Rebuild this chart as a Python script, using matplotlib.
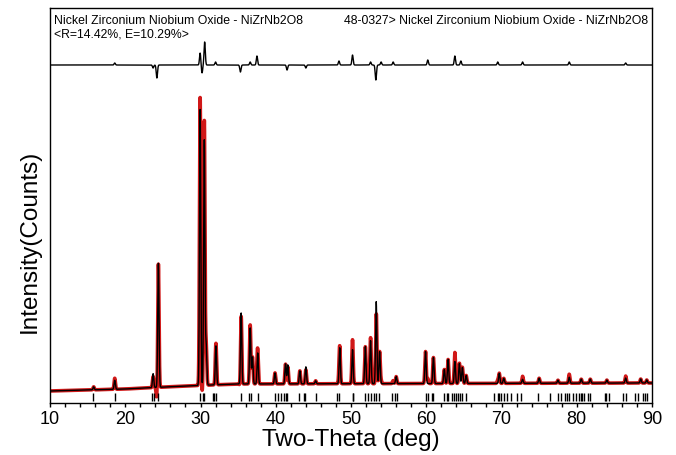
import numpy as np
import matplotlib.pyplot as plt

plt.rcParams['font.family'] = ['Liberation Sans', 'DejaVu Sans']

# 背景 (2θ, 强度)
bg_pos = [10, 20, 28, 35, 90]
bg_int = [12, 14, 17, 19, 20]

# 计算峰 (位置, 峰高)
peak_pos = [15.8, 18.6, 23.7, 24.4, 29.95, 30.5, 30.75, 32.05, 35.4, 36.6, 36.9,
            37.6, 39.9, 41.3, 41.6, 43.2, 44.0, 45.3, 48.5, 50.2, 51.9, 52.6,
            53.35, 53.8, 56.0, 59.9, 60.95, 62.4, 62.9, 63.8, 64.4, 64.8, 65.3,
            69.7, 70.3, 72.8, 75.0, 77.5, 79.0, 80.6, 81.8, 84.0, 86.5, 88.5, 89.3]
peak_h = [3, 9, 14, 124, 276, 245, 40, 39, 71, 56, 27,
          31, 11, 20, 19, 13, 17, 3, 36, 34, 37, 43,
          82, 32, 7, 32, 26, 14, 24, 22, 20, 16, 8,
          10, 5, 4, 5, 3, 6, 4, 4, 3, 5, 4, 3]

# 残差 (位置, 幅度)
res_pos = [18.6, 23.7, 24.2, 29.95, 30.2, 30.55, 32.0, 35.3, 36.6, 37.5, 41.5,
           44.0, 48.4, 50.2, 52.6, 53.3, 54.0, 55.6, 60.2, 63.8, 64.6, 69.5,
           72.8, 79.0, 86.5]
res_amp = [2, -3, -13, 12, -8, 23, 3, -7, 3, 9, -5,
           -3, 4, 10, 3, -15, 3, 3, 5, 9, 4, 3,
           3, 3, 2]

# PDF 48-0327 衍射线位置
refl = [15.77, 18.65, 23.6, 23.8, 24.4, 29.9, 30.3, 30.5, 31.6, 31.8, 32.05,
        35.4, 36.5, 36.7, 37.7, 39.9, 40.3, 40.7, 41.1, 41.3, 41.5, 43.1, 43.7,
        43.95, 45.3, 48.2, 48.4, 50.2, 50.3, 51.9, 52.2, 52.6, 53.0, 53.3, 53.7,
        55.5, 55.8, 56.1, 59.9, 60.2, 60.7, 60.9, 62.3, 62.7, 62.9, 63.4, 63.7,
        63.9, 64.2, 64.5, 64.8, 65.3, 69.0, 69.5, 69.7, 69.9, 70.3, 70.7, 71.2,
        72.1, 72.6, 74.8, 76.4, 77.5, 77.9, 78.4, 78.7, 79.0, 79.5, 79.9, 80.3,
        80.6, 80.7, 81.0, 81.5, 81.8, 83.7, 83.9, 84.3, 86.2, 86.6, 87.7, 88.1,
        88.8, 89.1, 89.4]

diff_offset = 338
sigma = 0.085

tt = np.arange(10, 90.001, 0.01)
calc = np.interp(tt, bg_pos, bg_int).astype(float)
for p, h in zip(peak_pos, peak_h):
    calc += h * np.exp(-0.5 * ((tt - p) / sigma) ** 2)
resid = np.zeros_like(tt)
for p, a in zip(res_pos, res_amp):
    resid += a * np.exp(-0.5 * ((tt - p) / sigma) ** 2)
obs = calc + resid

fig = plt.figure(figsize=(6.76, 4.55), dpi=100)
ax = fig.add_axes([0.074, 0.1143, 0.8905, 0.8681])

ax.plot(tt, obs, color='#d01818', lw=2.6)
ax.plot(tt, calc, color='black', lw=1.0)
ax.plot(tt, resid + diff_offset, color='black', lw=1.0)
ax.vlines(refl, 2, 10, color='black', lw=1.0)

ax.set_xlim(10, 90)
ax.set_ylim(0, 395)
ax.set_xticks(range(10, 91, 10))
ax.set_xticks(range(10, 91, 2), minor=True)
ax.tick_params(axis='x', which='both', direction='out', length=3, width=1,
               labelsize=13, pad=2.5)
ax.set_yticks([])
for s in ax.spines.values():
    s.set_linewidth(1)

ax.set_xlabel('Two-Theta (deg)', fontsize=17.5, labelpad=1)
ax.set_ylabel('Intensity(Counts)', fontsize=17.5)
ax.yaxis.set_label_coords(-0.015, 0.41)

ax.text(0.006, 0.983, 'Nickel Zirconium Niobium Oxide - NiZrNb2O8\n<R=14.42%, E=10.29%>',
        transform=ax.transAxes, ha='left', va='top', fontsize=8.8, linespacing=1.15)
ax.text(0.994, 0.983, '48-0327> Nickel Zirconium Niobium Oxide - NiZrNb2O8',
        transform=ax.transAxes, ha='right', va='top', fontsize=8.8)

plt.savefig('out.png', dpi=100)
